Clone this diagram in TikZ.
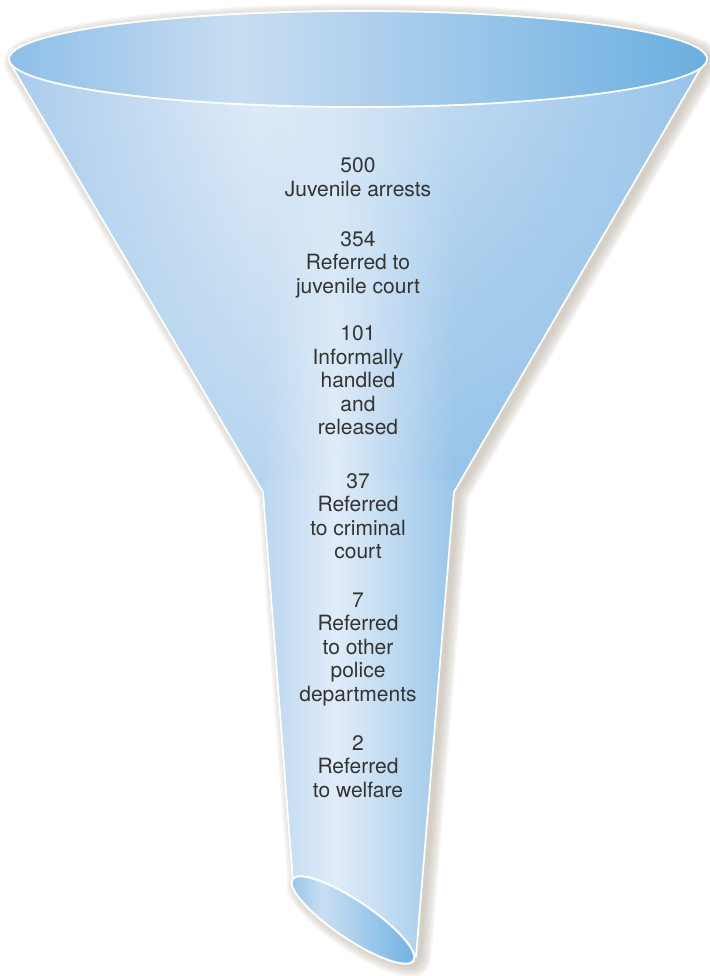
\documentclass[tikz,border=0pt]{standalone}
\usepackage{fontspec}
\setmainfont{TeX Gyre Heros}
\usetikzlibrary{fadings}

% palette
\definecolor{ellL}{HTML}{8DBFE8}
\definecolor{ellM}{HTML}{C9DDF2}
\definecolor{ellR}{HTML}{6AAFE0}
\definecolor{coneL}{HTML}{A9CCED}
\definecolor{coneM}{HTML}{E2EDF8}
\definecolor{coneR}{HTML}{98C5EA}
\definecolor{stemL}{HTML}{B6D4EF}
\definecolor{stemM}{HTML}{E1ECF8}
\definecolor{stemR}{HTML}{96C4E9}
\definecolor{botL}{HTML}{90C1E8}
\definecolor{botM}{HTML}{C9DEF2}
\definecolor{botR}{HTML}{6CB1E1}
\definecolor{shadowc}{RGB}{183,173,158}
\definecolor{txt}{HTML}{333333}

% horizontal shadings (the 25bp..75bp band is stretched over the path)
\pgfdeclarehorizontalshading{topshade}{100bp}{color(0bp)=(ellL); color(25bp)=(ellL); color(41.5bp)=(ellM); color(75bp)=(ellR); color(100bp)=(ellR)}
\pgfdeclarehorizontalshading{coneA}{100bp}{color(0bp)=(coneL); color(25bp)=(coneL); color(42.7bp)=(coneM); color(75bp)=(coneR); color(100bp)=(coneR)}
\pgfdeclarehorizontalshading{coneB}{100bp}{color(0bp)=(coneL); color(25bp)=(coneL); color(43.3bp)=(stemL); color(48.5bp)=(stemM); color(57.1bp)=(stemR); color(75bp)=(coneR); color(100bp)=(coneR)}
\pgfdeclarehorizontalshading{stemshade}{100bp}{color(0bp)=(stemL); color(25bp)=(stemL); color(44.3bp)=(stemM); color(75bp)=(stemR); color(100bp)=(stemR)}
\pgfdeclarehorizontalshading{botshade}{100bp}{color(0bp)=(botL); color(25bp)=(botL); color(38.5bp)=(botM); color(75bp)=(botR); color(100bp)=(botR)}

\tikzfading[name=conefade, top color=transparent!100, bottom color=transparent!0]

% every label block hangs from a 16pt strut on its first line
\newcommand\firstline{\rule{0pt}{16pt}}

\tikzset{
  lbl/.style={align=center, font=\fontsize{21}{23.5}\selectfont, text=txt, inner sep=0pt, anchor=north},
  rim/.style={draw=white, line width=1.7pt, line join=round},
  botrot/.style={rotate around={-34:(353,920)}}
}

\begin{document}
\begin{tikzpicture}[x=1pt, y=-1pt]
\useasboundingbox (0,0) rectangle (709,976);

% soft drop shadow behind the whole funnel
\foreach \w in {0.1,3,...,21} {
  \begin{scope}[transparency group, opacity=0.1, shift={(5,3)}]
    \fill[shadowc] (358,59) ellipse [x radius=349pt, y radius=48pt];
    \fill[shadowc] (10,63) -- (263,492) -- (293,882) -- (416,957) -- (454,492) -- (702,66) -- cycle;
    \fill[shadowc, botrot] (353,920) ellipse [x radius=73pt, y radius=19pt];
    \draw[shadowc, line width=\w pt, line join=round] (358,59) ellipse [x radius=349pt, y radius=48pt];
    \draw[shadowc, line width=\w pt, line join=round] (10,63) -- (263,492) -- (293,882) -- (416,957) -- (454,492) -- (702,66) -- cycle;
    \draw[shadowc, line width=\w pt, botrot] (353,920) ellipse [x radius=73pt, y radius=19pt];
  \end{scope}
}

% cone body, highlight drifting toward the stem further down
\shade[shading=coneA] (10,63) -- (263,492) -- (454,492) -- (702,66) -- cycle;
\shade[shading=coneB, path fading=conefade] (10,63) -- (263,492) -- (454,492) -- (702,66) -- cycle;

% stem
\shade[shading=stemshade] (256,480) -- (263,492) -- (293,882) -- (416,957) -- (454,492) -- (461,480) -- cycle;

% white rims along the sides
\draw[rim] (10,63) -- (263,492) -- (293,882);
\draw[rim] (702,66) -- (454,492) -- (416,957);

% top opening
\shade[shading=topshade] (358,59) ellipse [x radius=349pt, y radius=48pt];
\draw[draw=white, line width=1.8pt] (358,59) ellipse [x radius=349pt, y radius=48pt];

% bottom opening
\shade[shading=botshade, botrot] (353,920) ellipse [x radius=73pt, y radius=19pt];
\draw[draw=white, line width=2pt, botrot] (353,920) ellipse [x radius=73pt, y radius=19pt];

% labels (first baseline sits 16pt below the given point)
\node[lbl] (arrests)  at (358,156.7) {\firstline 500\\Juvenile arrests};
\node[lbl] (juvcourt) at (358,230)   {\firstline 354\\Referred to\\juvenile court};
\node[lbl] (released) at (358,324.7) {\firstline 101\\Informally\\handled\\and\\released};
\node[lbl] (criminal) at (358,472)   {\firstline 37\\Referred\\to criminal\\court};
\node[lbl] (police)   at (358,591)   {\firstline 7\\Referred\\to other\\police\\departments};
\node[lbl] (welfare)  at (358,734)   {\firstline 2\\Referred\\to welfare};
\end{tikzpicture}
\end{document}
